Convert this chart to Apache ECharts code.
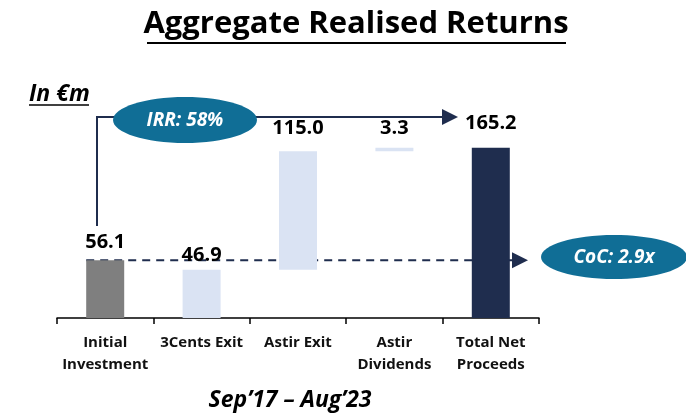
<!DOCTYPE html>
<html>
<head>
<meta charset="utf-8">
<script src="https://cdn.jsdelivr.net/npm/echarts@6/dist/echarts.min.js"></script>
<style>
  html, body { margin: 0; padding: 0; background: #fff; }
  #chart { width: 686px; height: 414px; }
</style>
</head>
<body>
<div id="chart"></div>
<script>
// data
var categories = ['Initial\nInvestment', '3Cents Exit', 'Astir Exit', 'Astir\nDividends', 'Total Net\nProceeds'];
var values = [56.1, 46.9, 115.0, 3.3, 165.2];
var irrText = 'IRR: 58%';
var cocText = 'CoC: 2.9x';
var periodText = 'Sep\u201917 \u2013 Aug\u201923';

// invisible base under floating bars = sum of earlier exits
var offsets = values.map(function (v, i) {
  if (i < 2 || i === values.length - 1) return 0;
  var s = 0;
  for (var k = 1; k < i; k++) s += values[k];
  return s;
});

var barColors = ['#7f7f7f', '#dae3f3', '#dae3f3', '#dae3f3', '#1f2d4e'];
var labelGap = [8, 4, 13, 10, 15];
var navy = '#1f2d4e';
var teal = '#106e96';
var FONT = '"Open Sans"';

var chart = echarts.init(document.getElementById('chart'));

chart.setOption({
  animation: false,
  grid: { left: 57, right: 147, top: 112, bottom: 96 },
  xAxis: {
    type: 'category',
    data: categories,
    axisLine: { lineStyle: { color: '#000', width: 1.5 } },
    axisTick: { show: true, length: 6, lineStyle: { color: '#000', width: 1.5 } },
    axisLabel: {
      color: '#111', fontFamily: FONT, fontWeight: 'bold', fontSize: 15,
      lineHeight: 22, margin: 14, interval: 0
    }
  },
  yAxis: {
    type: 'value', min: 0, max: 200, show: false,
    splitLine: { show: false }
  },
  series: [
    {
      type: 'bar', stack: 'w', barWidth: 38,
      itemStyle: { color: 'transparent' },
      data: offsets,
      silent: true
    },
    {
      type: 'bar', stack: 'w', barWidth: 38,
      data: values.map(function (v, i) {
        return {
          value: v,
          itemStyle: { color: barColors[i] },
          label: { distance: labelGap[i] }
        };
      }),
      label: {
        show: true, position: 'top', color: '#000',
        fontFamily: FONT, fontWeight: 'bold', fontSize: 20,
        formatter: function (p) { return p.value.toFixed(1); }
      }
    }
  ]
});

// annotations
var barLeft = chart.convertToPixel({ xAxisIndex: 0 }, 0) - 19;
var yInv = chart.convertToPixel({ yAxisIndex: 0 }, values[0]);

chart.setOption({
  graphic: [
    {
      type: 'text', x: 356, y: 24,
      style: {
        text: 'Aggregate Realised Returns', fill: '#000', align: 'center', verticalAlign: 'middle',
        font: 'bold 31px ' + FONT
      }
    },
    { type: 'line', shape: { x1: 147, y1: 43, x2: 566, y2: 43 }, style: { stroke: '#000', lineWidth: 2 } },
    {
      type: 'text', x: 29, y: 94,
      style: { text: 'In \u20acm', fill: '#000', verticalAlign: 'middle', font: 'italic bold 23px ' + FONT }
    },
    { type: 'line', shape: { x1: 29, y1: 105, x2: 89, y2: 105 }, style: { stroke: '#000', lineWidth: 1.5 } },
    // IRR bracket
    {
      type: 'polyline', shape: { points: [[97, 226], [97, 117], [445, 117]] },
      style: { stroke: navy, lineWidth: 2, fill: null }
    },
    { type: 'polygon', shape: { points: [[442, 109], [458, 117], [442, 125]] }, style: { fill: navy } },
    { type: 'ellipse', shape: { cx: 185, cy: 120, rx: 72, ry: 23 }, style: { fill: teal } },
    {
      type: 'text', x: 185, y: 121,
      style: { text: irrText, fill: '#fff', align: 'center', verticalAlign: 'middle', font: 'italic bold 19px ' + FONT }
    },
    // CoC line
    {
      type: 'line', shape: { x1: barLeft, y1: yInv, x2: 513, y2: yInv },
      style: { stroke: navy, lineWidth: 2, lineDash: [8, 6] }
    },
    { type: 'polygon', shape: { points: [[512, yInv - 8], [528, yInv], [512, yInv + 8]] }, style: { fill: navy } },
    { type: 'ellipse', shape: { cx: 614, cy: 257, rx: 73, ry: 22 }, style: { fill: teal } },
    {
      type: 'text', x: 614, y: 258,
      style: { text: cocText, fill: '#fff', align: 'center', verticalAlign: 'middle', font: 'italic bold 19px ' + FONT }
    },
    {
      type: 'text', x: 290, y: 400,
      style: { text: periodText, fill: '#000', align: 'center', verticalAlign: 'middle', font: 'italic bold 23px ' + FONT }
    }
  ]
});
</script>
</body>
</html>
